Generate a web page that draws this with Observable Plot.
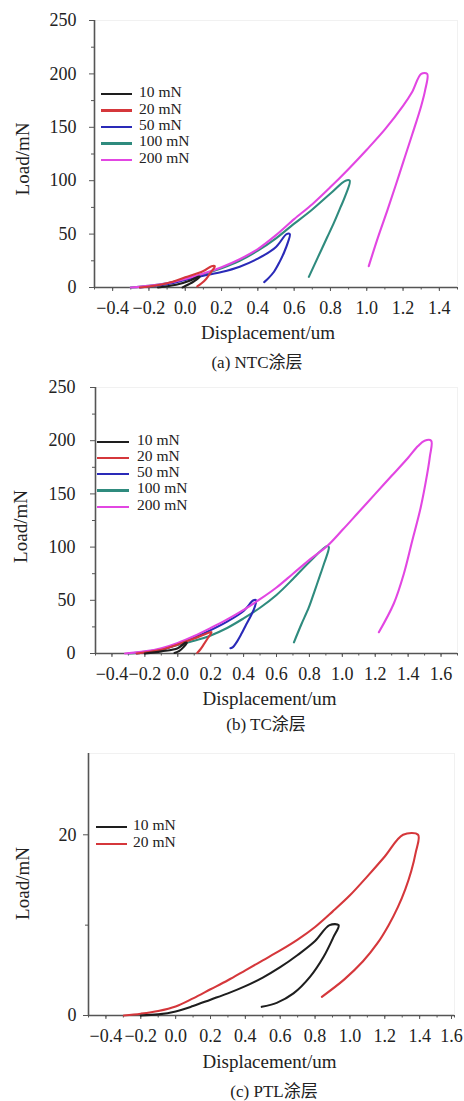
<!DOCTYPE html>
<html><head><meta charset="utf-8">
<script src="https://cdn.jsdelivr.net/npm/d3@7"></script>
<script src="https://cdn.jsdelivr.net/npm/@observablehq/plot@0.6"></script>
<style>
body{margin:0;background:#fff;}
#root{position:relative;width:464px;height:1101px;overflow:hidden;font-family:'Liberation Serif','Times New Roman','Noto Sans CJK SC',serif;color:#222;}
.panel{position:absolute;left:0;}
.cap{position:absolute;font-size:17px;white-space:nowrap;transform:translate(-50%,-50%);line-height:20px;}
.leg-line{position:absolute;height:2.4px;}
.leg-text{position:absolute;font-size:15.5px;line-height:16px;white-space:nowrap;}
</style></head><body><div id="root"></div>
<script>
// ---------- data ----------
const seriesNames = ["10 mN", "20 mN", "50 mN", "100 mN", "200 mN"];
const seriesColors = ["#1e1e1e", "#d5373b", "#2a2ab8", "#2f8b7e", "#e246e2"];

// (a) NTC coating: [displacement um, load mN]
const ntc10 = [[-0.15,0],[-0.05,2.5],[0.02,6],[0.07,10],[0.08,10],[0.05,6],[0.02,3],[-0.015,0]];
const ntc20 = [[-0.25,0],[-0.2,1],[-0.1,4],[0,9.5],[0.1,15.5],[0.145,20],[0.163,20],[0.14,14],[0.115,8],[0.09,4],[0.066,1]];
const ntc50 = [[-0.25,0],[-0.1,3],[0,7],[0.1,11],[0.2,14.5],[0.3,19.5],[0.4,27],[0.5,38],[0.558,50],[0.576,50],[0.565,42],[0.545,33],[0.52,24],[0.49,15],[0.46,9],[0.435,5]];
const ntc100 = [[-0.3,0],[-0.2,1.5],[-0.1,4],[0,8],[0.1,12.5],[0.2,18],[0.3,25],[0.4,34.5],[0.5,46],[0.58,57],[0.7,73],[0.8,88],[0.883,100],[0.906,100],[0.88,85],[0.855,75],[0.82,61],[0.782,47],[0.73,28],[0.681,10]];
const ntc200 = [[-0.3,0],[-0.2,1.5],[-0.1,4],[0,8],[0.1,13],[0.2,19],[0.3,26.5],[0.4,36],[0.5,49],[0.6,64],[0.7,78],[0.8,94],[0.9,111],[1.0,129],[1.1,148],[1.2,170],[1.25,183],[1.3,200],[1.333,200],[1.322,185],[1.3,170],[1.25,143],[1.204,119],[1.16,96],[1.113,72],[1.06,46],[1.011,20]];

// (b) TC coating
const tc10 = [[-0.2,0],[-0.1,2],[0,5],[0.045,10],[0.055,10],[0.035,6],[0.01,2.5],[-0.02,0.5]];
const tc20 = [[-0.25,0],[-0.1,3.5],[0,8.5],[0.1,14],[0.197,20],[0.205,20],[0.185,15],[0.16,9],[0.138,4],[0.118,0.6]];
const tc50 = [[-0.25,0],[-0.1,3.5],[0,9],[0.1,15],[0.2,22],[0.3,30],[0.4,40],[0.46,50],[0.476,50],[0.466,43],[0.446,36],[0.415,27],[0.385,18],[0.355,10],[0.335,6],[0.32,5]];
const tc100 = [[-0.3,0],[-0.2,1.5],[-0.1,4],[0,8],[0.1,12],[0.2,17],[0.3,24],[0.4,33],[0.5,43],[0.6,55],[0.7,70],[0.8,86],[0.908,101],[0.918,100],[0.89,85],[0.868,75],[0.83,58],[0.797,43.5],[0.75,27],[0.706,10.5]];
const tc200 = [[-0.32,0],[-0.2,2],[-0.1,5],[0,10],[0.1,16.5],[0.2,24],[0.3,32],[0.4,41],[0.5,51],[0.6,62],[0.7,75],[0.8,88],[0.908,101],[1.0,116],[1.1,133],[1.2,150],[1.3,167],[1.4,184],[1.46,195],[1.5,200],[1.54,200],[1.532,185],[1.516,169],[1.476,137],[1.425,106],[1.374,75],[1.313,47],[1.222,20]];

// (c) PTL coating
const ptl10 = [[-0.2,0],[-0.1,0.12],[0,0.45],[0.1,1.05],[0.2,1.75],[0.3,2.45],[0.4,3.25],[0.5,4.2],[0.6,5.35],[0.7,6.7],[0.8,8.25],[0.883,10],[0.935,10],[0.906,8.7],[0.849,6.5],[0.772,4.3],[0.676,2.44],[0.58,1.4],[0.494,0.96]];
const ptl20 = [[-0.297,0],[-0.2,0.2],[-0.1,0.5],[0,1.0],[0.1,1.9],[0.2,2.9],[0.3,3.9],[0.4,5.0],[0.5,6.1],[0.6,7.2],[0.7,8.4],[0.8,9.8],[0.9,11.5],[1.0,13.3],[1.1,15.4],[1.2,17.6],[1.305,20],[1.391,20],[1.377,18],[1.352,16],[1.318,14],[1.275,12],[1.222,10],[1.158,8],[1.075,6],[0.968,4],[0.839,2.07]];

// tick values
const xTicksA = [-0.4,-0.2,0.0,0.2,0.4,0.6,0.8,1.0,1.2,1.4];
const xTicksB = [-0.4,-0.2,0.0,0.2,0.4,0.6,0.8,1.0,1.2,1.4,1.6];
const xTicksC = [-0.4,-0.2,0.0,0.2,0.4,0.6,0.8,1.0,1.2,1.4];
const xTicksCEdge = [1.6];
const yTicksAB = [0,50,100,150,200,250];
const yTicksC = [0,20];
const captions = ["(a) NTC涂层", "(b) TC涂层", "(c) PTL涂层"];
const xLabel = "Displacement/um";
const yLabel = "Load/mN";

// ---------- drawing ----------
const FONT = "'Liberation Serif','Times New Roman','Noto Sans CJK SC',serif";
const AX = "#555";
const FS = 18;   // tick labels
const FL = 19;   // axis titles
const fmt = d => d.toFixed(1).replace("-", "\u2212");
const root = document.getElementById("root");

function panel(cfg) {
  const wrap = document.createElement("div");
  wrap.className = "panel";
  wrap.style.top = cfg.top + "px";
  const lines = cfg.order.map(i => Plot.line(cfg.series[i], {
    x: d => d[0], y: d => d[1], stroke: seriesColors[i], strokeWidth: 2.1,
    curve: "catmull-rom", strokeLinejoin: "round", strokeLinecap: "round"
  }));
  const extra = cfg.edgeTicks ? [Plot.axisX(cfg.edgeTicks, {tickSize: 4, tickPadding: 10, tickFormat: fmt, stroke: AX, fill: "#222", fontSize: FS, label: null, dx: -3})] : [];
  const chart = Plot.plot({
    width: 464, height: cfg.height,
    marginTop: cfg.m[0], marginRight: cfg.m[1], marginBottom: cfg.m[2], marginLeft: cfg.m[3],
    style: {fontFamily: FONT, fontSize: FS + "px", color: "#222", background: "transparent"},
    x: {domain: cfg.xDomain},
    y: {domain: cfg.yDomain},
    marks: [
      Plot.frame({stroke: "#f1f1f1"}),
      Plot.axisX(cfg.xMinor, {tickSize: 2.5, tickFormat: () => "", stroke: AX, label: null}),
      Plot.axisX(cfg.xTicks, {tickSize: 4, tickPadding: 10, tickFormat: fmt, stroke: AX, fill: "#222", fontSize: FS, label: null}),
      ...extra,
      Plot.axisY(cfg.yMinor, {tickSize: 3, tickFormat: () => "", stroke: AX, label: null}),
      Plot.axisY(cfg.yTicks, {tickSize: 5, tickPadding: cfg.yPad, stroke: AX, fill: "#222", fontSize: FS, label: null}),
      Plot.ruleY([cfg.yDomain[0]], {stroke: AX, strokeWidth: 1.6}),
      Plot.ruleX([cfg.xDomain[0]], {stroke: AX, strokeWidth: 1.6}),
      ...lines,
      Plot.text([xLabel], {text: d => d, frameAnchor: "bottom", lineAnchor: "middle", textAnchor: "middle", dy: cfg.xlab[1], dx: cfg.xlab[0], fontSize: FL, fill: "#222"}),
      Plot.text([yLabel], {text: d => d, frameAnchor: "left", lineAnchor: "middle", textAnchor: "middle", rotate: -90, dx: cfg.ylab[0], dy: cfg.ylab[1], fontSize: FL, fill: "#222"})
    ]
  });
  chart.style.display = "block";
  wrap.appendChild(chart);
  root.appendChild(wrap);
  // legend
  cfg.legend.items.forEach((i, k) => {
    const y = cfg.legend.y0 + k * cfg.legend.dy;
    const ln = document.createElement("div");
    ln.className = "leg-line";
    ln.style.left = cfg.legend.x0 + "px";
    ln.style.width = (cfg.legend.x1 - cfg.legend.x0) + "px";
    ln.style.top = (y - 1.2) + "px";
    ln.style.background = seriesColors[i];
    root.appendChild(ln);
    const tx = document.createElement("div");
    tx.className = "leg-text";
    tx.textContent = seriesNames[i];
    tx.style.left = cfg.legend.tx + "px";
    tx.style.top = (y - 2 - 8) + "px";
    root.appendChild(tx);
  });
  const cap = document.createElement("div");
  cap.className = "cap";
  cap.textContent = cfg.caption;
  cap.style.left = cfg.cap[0] + "px";
  cap.style.top = cfg.cap[1] + "px";
  root.appendChild(cap);
}

panel({
  top: 0, height: 345, m: [20, 7, 58, 94],
  xDomain: [-0.5, 1.5], yDomain: [0, 250],
  xTicks: xTicksA, xMinor: d3.range(-0.5, 1.51, 0.1).map(v => +v.toFixed(2)),
  yTicks: yTicksAB, yMinor: d3.range(25, 250, 50), yPad: 13,
  series: [ntc10, ntc20, ntc50, ntc100, ntc200], order: [3, 2, 4, 1, 0],
  xlab: [-8, 45], ylab: [-72, 5],
  legend: {items: [0,1,2,3,4], x0: 101, x1: 132, tx: 139, y0: 94.3, dy: 16.35},
  caption: captions[0], cap: [257, 363]
});
panel({
  top: 372, height: 338, m: [15, 7, 57, 95],
  xDomain: [-0.5, 1.7], yDomain: [0, 250],
  xTicks: xTicksB, xMinor: d3.range(-0.5, 1.71, 0.1).map(v => +v.toFixed(2)),
  yTicks: yTicksAB, yMinor: d3.range(25, 250, 50), yPad: 15,
  series: [tc10, tc20, tc50, tc100, tc200], order: [3, 2, 4, 1, 0],
  xlab: [-7, 45], ylab: [-75, 6],
  legend: {items: [0,1,2,3,4], x0: 97, x1: 129, tx: 137, y0: 441.7, dy: 16.25},
  caption: captions[1], cap: [266, 725]
});
panel({
  top: 740, height: 337, m: [13, 10, 62, 88],
  xDomain: [-0.5, 1.6], yDomain: [0, 29],
  xTicks: xTicksC, edgeTicks: xTicksCEdge, xMinor: d3.range(-0.5, 1.61, 0.1).map(v => +v.toFixed(2)),
  yTicks: yTicksC, yMinor: [10], yPad: 7,
  series: [ptl10, ptl20], order: [1, 0],
  xlab: [-2, 46], ylab: [-66, -1],
  legend: {items: [0,1], x0: 96, x1: 127, tx: 133, y0: 826.7, dy: 17.3},
  caption: captions[2], cap: [274, 1092]
});
</script></body></html>
